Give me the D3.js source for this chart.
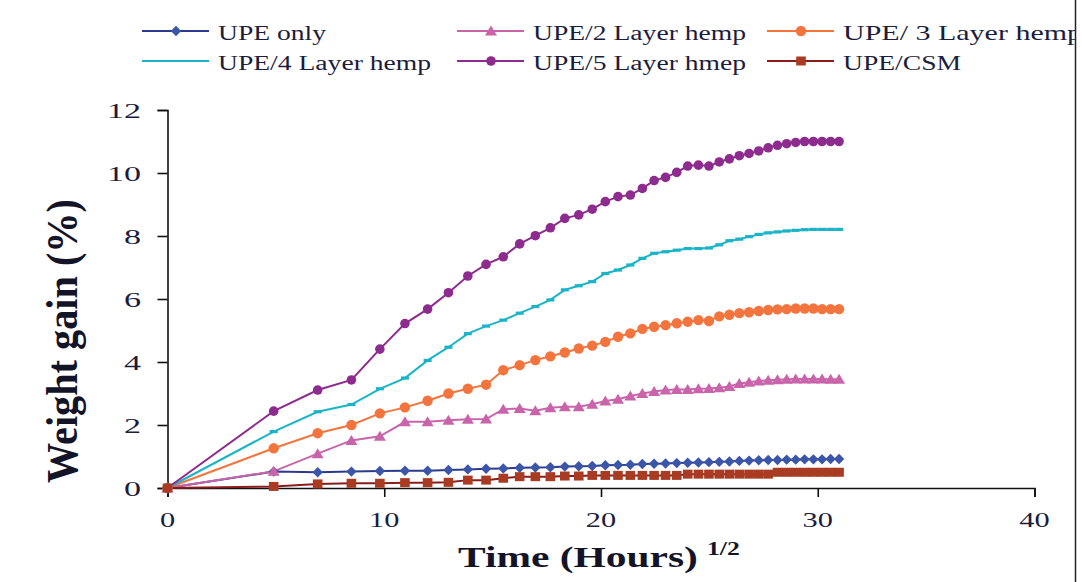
<!DOCTYPE html>
<html>
<head>
<meta charset="utf-8">
<script src="https://cdn.jsdelivr.net/npm/d3@7"></script>
<style>
  html, body { margin: 0; padding: 0; background: #fff; }
  svg { display: block; }
</style>
</head>
<body>
<svg id="chart" width="1082" height="582"></svg>
<script>
// Immersion time in hours (plotted as the square root of time)
const hours = [0, 24, 48, 72, 96, 120, 144, 168, 192, 216, 240, 264, 288, 312, 336, 360, 384, 408, 432, 456,
  480, 504, 528, 552, 576, 600, 624, 648, 672, 696, 720, 744, 768, 792, 816, 840, 864, 888, 912, 936, 960];

// Weight gain (%) for each laminate
const upeOnly = [0, 0.52, 0.50, 0.52, 0.54, 0.55, 0.55, 0.57, 0.59, 0.61, 0.62, 0.64, 0.65, 0.66, 0.68, 0.69, 0.70, 0.72, 0.73, 0.74,
  0.76, 0.77, 0.78, 0.79, 0.80, 0.81, 0.82, 0.83, 0.84, 0.86, 0.87, 0.88, 0.89, 0.89, 0.90, 0.90, 0.91, 0.91, 0.91, 0.92, 0.92];
const upe2Layer = [0, 0.53, 1.09, 1.51, 1.64, 2.10, 2.10, 2.15, 2.18, 2.19, 2.50, 2.52, 2.45, 2.55, 2.58, 2.58, 2.66, 2.76, 2.82, 2.92,
  3.00, 3.06, 3.11, 3.13, 3.13, 3.15, 3.16, 3.18, 3.22, 3.32, 3.36, 3.40, 3.42, 3.44, 3.45, 3.46, 3.46, 3.46, 3.46, 3.45, 3.45];
const upe3Layer = [0, 1.26, 1.74, 2.00, 2.37, 2.56, 2.77, 3.00, 3.15, 3.28, 3.74, 3.90, 4.06, 4.18, 4.30, 4.43, 4.52, 4.64, 4.80, 4.91,
  5.05, 5.12, 5.17, 5.23, 5.28, 5.33, 5.30, 5.45, 5.50, 5.55, 5.58, 5.62, 5.65, 5.67, 5.68, 5.70, 5.70, 5.70, 5.68, 5.68, 5.68];
const upe4Layer = [0, 1.79, 2.42, 2.65, 3.15, 3.49, 4.05, 4.47, 4.90, 5.14, 5.33, 5.55, 5.76, 5.97, 6.29, 6.42, 6.55, 6.81, 6.92, 7.08,
  7.29, 7.45, 7.50, 7.55, 7.60, 7.60, 7.62, 7.72, 7.85, 7.90, 7.98, 8.05, 8.10, 8.13, 8.16, 8.18, 8.20, 8.21, 8.21, 8.21, 8.21];
const upe5Layer = [0, 2.44, 3.11, 3.43, 4.41, 5.22, 5.68, 6.20, 6.73, 7.10, 7.34, 7.75, 8.01, 8.26, 8.56, 8.67, 8.85, 9.09, 9.25, 9.30,
  9.51, 9.76, 9.86, 10.02, 10.22, 10.25, 10.22, 10.35, 10.45, 10.55, 10.62, 10.70, 10.80, 10.88, 10.93, 10.97, 11.00, 11.00, 11.00, 11.00, 11.00];
const upeCsm = [0, 0.05, 0.13, 0.15, 0.15, 0.17, 0.17, 0.18, 0.25, 0.25, 0.31, 0.36, 0.36, 0.36, 0.38, 0.38, 0.40, 0.40, 0.40, 0.40,
  0.40, 0.40, 0.40, 0.40, 0.44, 0.44, 0.44, 0.44, 0.44, 0.44, 0.44, 0.44, 0.44, 0.50, 0.50, 0.50, 0.50, 0.50, 0.50, 0.50, 0.50];

const seriesNames = ["UPE only", "UPE/2 Layer hemp", "UPE/ 3 Layer hemp", "UPE/4 Layer hemp", "UPE/5 Layer hmep", "UPE/CSM"];
const xTicks = [0, 10, 20, 30, 40];
const yTicks = [0, 2, 4, 6, 8, 10, 12];

const series = [
  { name: seriesNames[0], values: upeOnly,   line: "#2c3a8e", fill: "#3b55a9", marker: "diamond" },
  { name: seriesNames[1], values: upe2Layer, line: "#c964ab", fill: "#c964ab", marker: "triangle" },
  { name: seriesNames[2], values: upe3Layer, line: "#f3743c", fill: "#f3743c", marker: "circle" },
  { name: seriesNames[3], values: upe4Layer, line: "#1ab4c9", fill: "#1ab4c9", marker: "dash" },
  { name: seriesNames[4], values: upe5Layer, line: "#8e2b8e", fill: "#8e2b8e", marker: "circle5" },
  { name: seriesNames[5], values: upeCsm,    line: "#8a1c1c", fill: "#a83b22", marker: "square" }
];

const svg = d3.select("#chart");
const serif = "'Liberation Serif', 'Times New Roman', serif";
const ink = "#1c1c3c";
const stretch = 1.38;   // wide-set type used throughout the figure

const margin = { left: 167.5, right: 1034.5, top: 110, bottom: 488 };
const x = d3.scaleLinear().domain([0, 40]).range([margin.left, margin.right]);
const y = d3.scaleLinear().domain([0, 12]).range([margin.bottom, margin.top]);

// Horizontally stretched text helper
function wideText(g, str, tx, ty, opts) {
  return g.append("text")
    .attr("transform", `translate(${tx},${ty}) scale(${opts.sx || stretch},1)`)
    .attr("font-family", serif)
    .attr("font-size", opts.size)
    .attr("font-weight", opts.weight || "normal")
    .attr("text-anchor", opts.anchor || "start")
    .attr("fill", opts.fill || ink)
    .text(str);
}

function drawMarker(g, type, cx, cy, fill) {
  if (type === "diamond") {
    g.append("path").attr("d", `M${cx},${cy - 5.2}L${cx + 5.2},${cy}L${cx},${cy + 5.2}L${cx - 5.2},${cy}Z`).attr("fill", fill);
  } else if (type === "triangle") {
    g.append("path").attr("d", `M${cx},${cy - 5.5}L${cx + 6},${cy + 4.5}L${cx - 6},${cy + 4.5}Z`).attr("fill", fill);
  } else if (type === "circle") {
    g.append("circle").attr("cx", cx).attr("cy", cy).attr("r", 5.2).attr("fill", fill);
  } else if (type === "circle5") {
    g.append("circle").attr("cx", cx).attr("cy", cy).attr("r", 4.8).attr("fill", fill);
  } else if (type === "square") {
    g.append("rect").attr("x", cx - 4.8).attr("y", cy - 4.5).attr("width", 9.6).attr("height", 9).attr("fill", fill);
  } else if (type === "dash") {
    g.append("rect").attr("x", cx - 4).attr("y", cy - 1.6).attr("width", 8).attr("height", 3.2).attr("fill", fill);
  }
}

// Axes
const xAxis = d3.axisBottom(x).tickValues(xTicks).tickSize(9).tickFormat(() => "");
const yAxis = d3.axisLeft(y).tickValues(yTicks).tickSize(10).tickFormat(() => "");

const gx = svg.append("g").attr("transform", `translate(0,${margin.bottom})`).call(xAxis);
const gy = svg.append("g").attr("transform", `translate(${margin.left},0)`).call(yAxis);
[gx, gy].forEach(g => {
  g.select(".domain").attr("stroke", "#111").attr("stroke-width", 1.6);
  g.selectAll(".tick line").attr("stroke", "#111").attr("stroke-width", 1.6);
});

const labels = svg.append("g");
xTicks.forEach(v => wideText(labels, String(v), x(v), 527, { size: 22, anchor: "middle" }));
yTicks.forEach(v => wideText(labels, String(v), 141, y(v) + 7.5, { size: 22, anchor: "end", sx: 1.55 }));

// Axis titles
wideText(labels, "Time (Hours)", 458, 567, { size: 29, weight: "bold", fill: "#141428", sx: 1.43 });
wideText(labels, "1/2", 707, 555, { size: 19, weight: "bold", fill: "#141428", sx: 1.35 });
labels.append("text")
  .attr("transform", `translate(77,341) rotate(-90) scale(1.15,1.25)`)
  .attr("font-family", serif)
  .attr("font-size", 35)
  .attr("font-weight", "bold")
  .attr("text-anchor", "middle")
  .attr("fill", "#141428")
  .text("Weight gain (%)");

// Series
const plot = svg.append("g");
const line = d3.line().x((d, i) => x(Math.sqrt(hours[i]))).y(d => y(d));
series.forEach(s => {
  plot.append("path").datum(s.values)
    .attr("d", line)
    .attr("fill", "none")
    .attr("stroke", s.line)
    .attr("stroke-width", 2);
});
series.forEach(s => {
  const mg = plot.append("g");
  s.values.forEach((v, i) => drawMarker(mg, s.marker, x(Math.sqrt(hours[i])), y(v), s.fill));
});

// Legend: three columns, two rows
const legend = svg.append("g");
const colX = [142, 457, 767];
const rowY = [31, 61];
series.forEach((s, i) => {
  const cx0 = colX[i % 3], cy0 = rowY[Math.floor(i / 3)];
  legend.append("line").attr("x1", cx0).attr("x2", cx0 + 67).attr("y1", cy0).attr("y2", cy0)
    .attr("stroke", s.line).attr("stroke-width", 2);
  if (s.marker !== "dash") drawMarker(legend, s.marker, cx0 + 34, cy0, s.fill);
  wideText(legend, s.name, cx0 + 76, cy0 + 9, { size: 20, sx: i === 2 ? 1.5 : stretch });
});

// Outer frame on the right edge
svg.append("rect").attr("x", 1075).attr("y", 0).attr("width", 7).attr("height", 582).attr("fill", "#fff");
svg.append("line").attr("x1", 1075.5).attr("x2", 1075.5).attr("y1", 0).attr("y2", 582)
  .attr("stroke", "#222").attr("stroke-width", 1.5);
</script>
</body>
</html>
